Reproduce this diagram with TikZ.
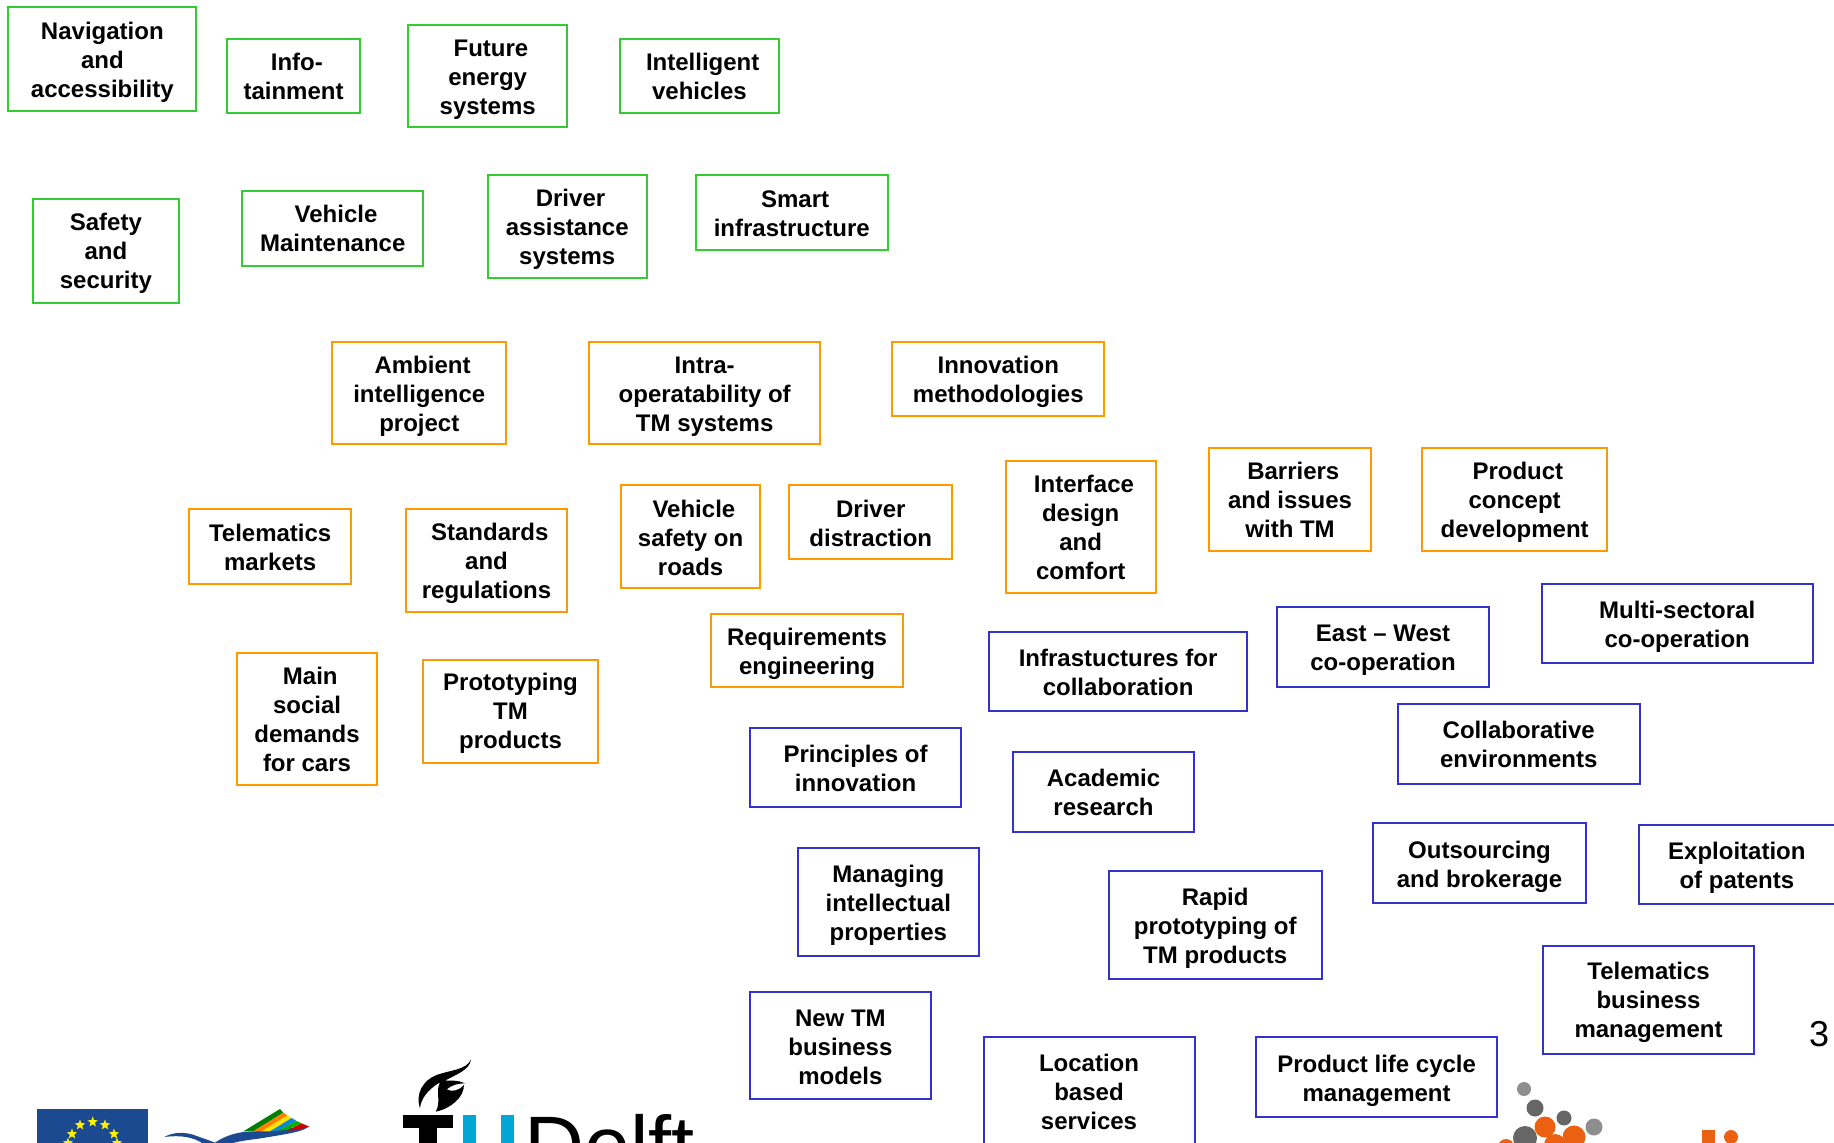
\documentclass[tikz,border=0pt]{standalone}
\usepackage{fontspec}
\usetikzlibrary{shapes.geometric}
\setmainfont{Liberation Sans}
\tikzset{x=1pt,y=-1pt,
 boxlabel/.style={align=center,font=\fontsize{24}{29}\selectfont\bfseries,inner sep=0pt,text=black},
}
\definecolor{grn}{HTML}{33CC33}
\definecolor{org}{HTML}{FF9900}
\definecolor{blu}{HTML}{3333CC}
\definecolor{logoorg}{HTML}{EC6012}
\definecolor{logogrA}{HTML}{8E8E8E}
\definecolor{logogrB}{HTML}{666666}
\definecolor{euflag}{HTML}{1B4A90}
\definecolor{tublue}{HTML}{00A6D6}
\newcommand{\sh}{\hspace*{6.5pt}}
% [text drop] name x1 y1 x2 y2 colour text
\newcommand{\tbox}[8][0]{%
 \node[draw=#7,line width=2pt,inner sep=0pt,minimum width={(#5-#3)*1.1696pt},minimum height={(#6-#4)*1.1696pt},anchor=center] (#2) at ({(#3+#5)/2*1.1696},{(#4+#6)/2*1.1696}) {};
 \node[boxlabel,yshift=-#1pt] (#2t) at (#2.center) {#8};}
\begin{document}
\begin{tikzpicture}
\useasboundingbox (0,0) rectangle (1834,1143);
\clip (0,0) rectangle (1834,1143);
\tbox[3]{a1}{7}{6}{168}{95}{grn}{Navigation\\and\\accessibility}
\tbox[.5]{a2}{194}{33}{308}{97}{grn}{\sh Info-\\tainment}
\tbox[3.5]{a3}{349}{21}{485}{109}{grn}{\sh Future\\energy\\systems}
\tbox[.5]{a4}{530}{33}{666}{97}{grn}{\sh Intelligent\\vehicles}
\tbox[2.5]{b1}{28}{170}{153}{259}{grn}{Safety\\and\\security}
\tbox[0]{b2}{207}{163}{362}{227}{grn}{\sh Vehicle\\Maintenance}
\tbox[2.5]{b3}{417}{150}{553}{238}{grn}{\sh Driver\\assistance\\systems}
\tbox[1]{b4}{595}{150}{759}{214}{grn}{\sh Smart\\infrastructure}
\tbox[3.5]{c1}{284}{292}{433}{380}{org}{\sh Ambient\\intelligence\\project}
\tbox[3.5]{c2}{504}{292}{701}{380}{org}{Intra-\\operatability of\\TM systems}
\tbox[3]{c3}{763}{292}{944}{356}{org}{Innovation\\methodologies}
\tbox[1]{d1}{162}{435}{300}{499}{org}{Telematics\\markets}
\tbox[3.5]{d2}{347}{435}{485}{523}{org}{\sh Standards\\and\\regulations}
\tbox[1]{d3}{531}{415}{650}{503}{org}{\sh Vehicle\\safety on\\roads}
\tbox[1]{d4}{675}{415}{814}{478}{org}{Driver\\distraction}
\tbox[1]{d5}{860}{394}{988}{507}{org}{\sh Interface\\design\\and\\comfort}
\tbox[0]{d6}{1034}{383}{1172}{471}{org}{\sh Barriers\\and issues\\with TM}
\tbox[2.5]{d7}{1216}{383}{1374}{471}{org}{\sh Product\\concept\\development}
\tbox[1]{e1}{203}{558}{322}{671}{org}{\sh Main\\social\\demands\\for cars}
\tbox[2.5]{e2}{362}{564}{511}{652}{org}{Prototyping\\TM\\products}
\tbox[3.5]{e3}{608}{525}{772}{587}{org}{Requirements\\engineering}
\tbox[1]{f1}{846}{540}{1066}{608}{blu}{Infrastuctures for\\collaboration}
\tbox[3.5]{f2}{1092}{519}{1273}{587}{blu}{East -- West\\co-operation}
\tbox[3]{f3}{1318}{499}{1550}{567}{blu}{Multi-sectoral\\co-operation}
\tbox[1]{g1}{641}{622}{822}{690}{blu}{Principles of\\innovation}
\tbox[.5]{g2}{866}{643}{1021}{711}{blu}{Academic\\research}
\tbox[1]{g3}{1195}{602}{1402}{670}{blu}{Collaborative\\environments}
\tbox[4]{h1}{682}{725}{837}{817}{blu}{Managing\\intellectual\\properties}
\tbox[3.5]{h2}{948}{745}{1130}{837}{blu}{Rapid\\prototyping of\\TM products}
\tbox[4]{h3}{1174}{704}{1356}{772}{blu}{Outsourcing\\and brokerage}
\tbox[3.5]{h4}{1401}{705}{1569}{773}{blu}{Exploitation\\of patents}
\tbox[2]{i1}{641}{848}{796}{940}{blu}{New TM\\business\\models}
\tbox[3.5]{i3}{1074}{887}{1280}{955}{blu}{Product life cycle\\management}
\tbox[2.5]{i4}{1319}{809}{1500}{901}{blu}{Telematics\\business\\management}
% box running off the bottom edge
\draw[blu,line width=2pt] (983.7,1180) -- (983.7,1037.4) -- (1195.3,1037.4) -- (1195.3,1180);
\node[boxlabel,anchor=north] (i2) at (1089,1053.5) {Location\\based\\services};
\node[font=\fontsize{36}{40}\selectfont,inner sep=0pt] (pg) at (1819,1034) {3};
% EU flag
\fill[euflag] (37,1109) rectangle (148,1143);
\foreach \px/\py in {92.7/1122,80/1125,105/1125,72/1134,114/1134,68/1143,117/1143}
 \node[star,star points=5,star point ratio=2.4,fill=yellow,inner sep=0pt,minimum size=11pt] at (\px,\py) {};
% wing logo
\begin{scope}[shift={(20,1090)},scale=1/3]
\fill[euflag] (433,141) .. controls (460,125) and (500,125) .. (530,138) .. controls (550,145) and (570,152) .. (585,158) .. controls (610,140) and (650,125) .. (690,125) -- (865,110) .. controls (850,125) and (800,132) .. (740,142) .. controls (700,150) and (650,150) .. (610,170) -- (560,170) .. controls (540,150) and (500,132) .. (433,141) -- cycle;
\fill[green!50!black] (670,124) -- (780,57) -- (790,68) -- (700,124) -- cycle;
\fill[orange] (700,124) -- (790,68) -- (803,76) -- (725,124) -- cycle;
\fill[yellow!85!orange] (725,124) -- (803,76) -- (815,84) -- (750,124) -- cycle;
\fill[cyan!70!blue] (750,124) -- (815,84) -- (830,93) -- (775,122) -- cycle;
\fill[green!70!black] (775,122) -- (830,93) -- (845,100) -- (800,120) -- cycle;
\fill[red!80!black] (800,122) -- (845,100) -- (868,110) -- (830,120) -- cycle;
\end{scope}
% TU Delft flame
\begin{scope}[shift={(390,1050)},scale=1/3]
\fill[black] (243,28) .. controls (230,60) and (180,60) .. (140,75) .. controls (100,90) and (75,130) .. (90,175) .. controls (92,150) and (110,120) .. (150,97) .. controls (135,125) and (155,155) .. (137,185) .. controls (185,175) and (222,140) .. (222,105) .. controls (210,120) and (185,128) .. (170,118) .. controls (185,105) and (205,100) .. (225,100) .. controls (205,90) and (185,92) .. (165,92) .. controls (195,75) and (240,60) .. (243,28) -- cycle;
\end{scope}
% TU Delft word
\fill[black] (403,1115) rectangle (453,1128);
\fill[black] (419,1115) rectangle (437,1143);
\fill[tublue] (463,1115) rectangle (476,1143);
\fill[tublue] (501,1115) rectangle (514,1143);
\node[font=\fontsize{83}{83}\selectfont,anchor=base west,inner sep=0pt] (delft) at (524,1174) {Delft};
% right logo dots
\foreach \px/\py/\r/\c in {1524/1089/7/logogrA,1535/1108/8.5/logogrB,1564/1118/7.5/logogrB,1594/1127/8.5/logogrA,1525/1138/12/logogrB,1545/1127/10.5/logoorg,1574/1137/11.5/logoorg,1555/1145/11/logoorg,1506/1147/8/logoorg}
 \fill[\c] (\px,\py) circle (\r);
\fill[logoorg] (1702,1130) rectangle (1715,1143);
\fill[logoorg] (1731,1137) circle (7);
\end{tikzpicture}
\end{document}
